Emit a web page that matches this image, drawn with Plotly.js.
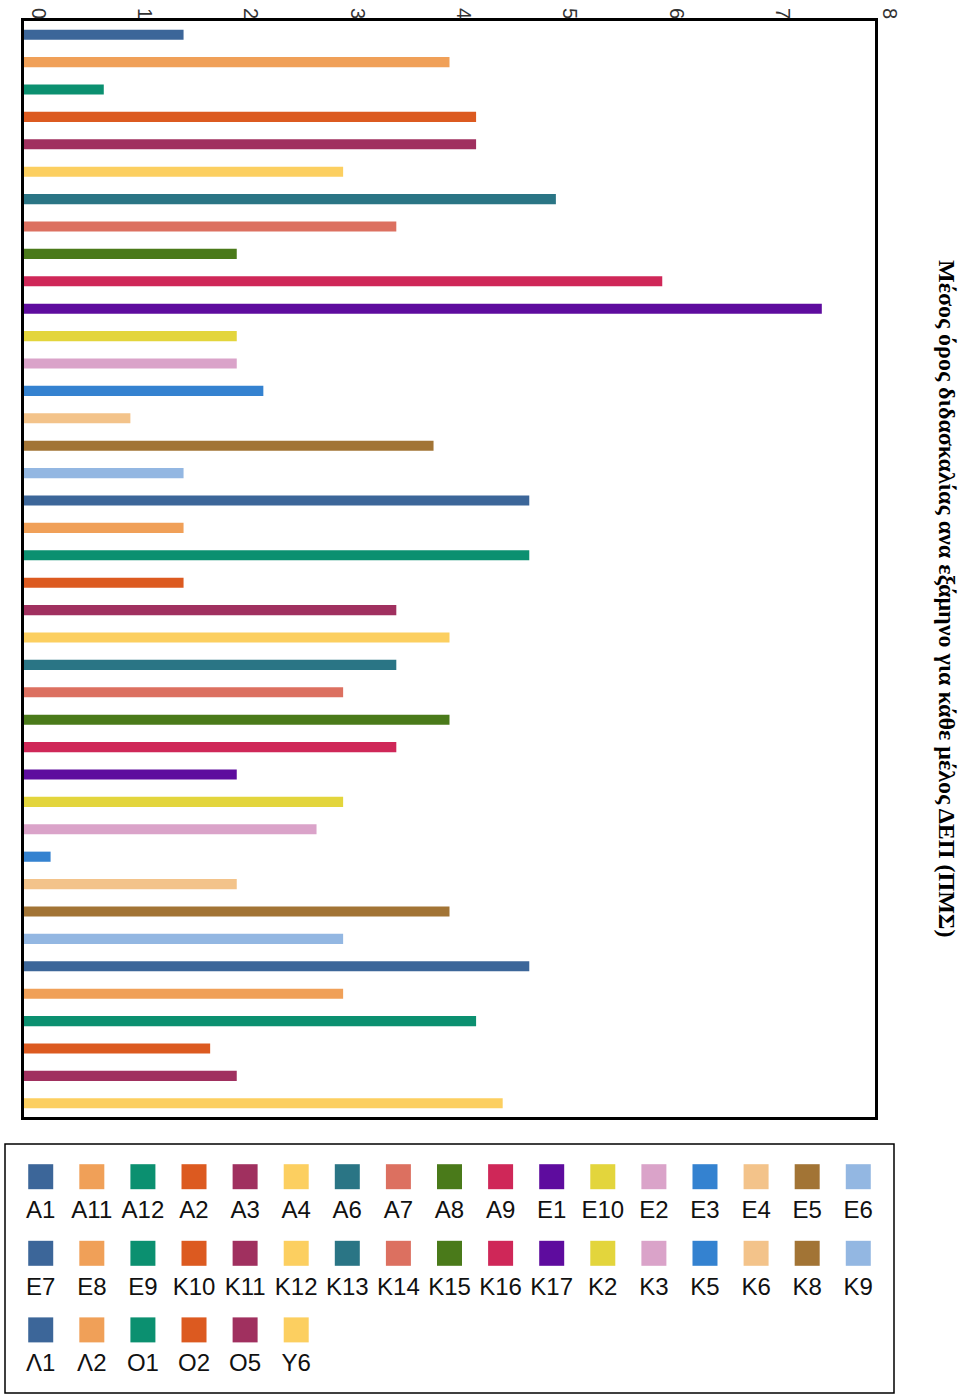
<!DOCTYPE html>
<html>
<head>
<meta charset="utf-8">
<script src="https://cdn.plot.ly/plotly-3.0.1.min.js"></script>
<style>
  html, body { margin: 0; padding: 0; background: #fff; }
  #chart { width: 960px; height: 1397px; }
</style>
</head>
<body>
<div id="chart"></div>
<script>
// members (categories), top to bottom
var members = ["A1", "A11", "A12", "A2", "A3", "A4", "A6", "A7", "A8", "A9",
    "E1", "E10", "E2", "E3", "E4", "E5", "E6", "E7", "E8", "E9",
    "K10", "K11", "K12", "K13", "K14", "K15", "K16", "K17", "K2", "K3",
    "K5", "K6", "K8", "K9", "Λ1", "Λ2", "O1", "O2", "O5", "Y6"];

// average teaching per semester
var avgTeaching = [1.5, 4, 0.75, 4.25, 4.25, 3, 5, 3.5, 2, 6,
    7.5, 2, 2, 2.25, 1, 3.85, 1.5, 4.75, 1.5, 4.75,
    1.5, 3.5, 4, 3.5, 3, 4, 3.5, 2, 3, 2.75,
    0.25, 2, 4, 3, 4.75, 3, 4.25, 1.75, 2, 4.5];

// excel-like palette, repeats every 17
var palette = ["#3C6699", "#F0A058", "#0B9070", "#DC5A20", "#A0305F", "#FCCF60",
    "#2A7585", "#DC7060", "#4A7A1A", "#CF2758", "#5E0C9E", "#E3D53C",
    "#DAA3C9", "#3482D0", "#F3C38A", "#A27435", "#93B7E2"];

var xTicks = [0, 1, 2, 3, 4, 5, 6, 7, 8];

var colors = members.map((m, i) => palette[i % palette.length]);

// legend grid: 17 per row
var perRow = 17;
var legCol = members.map((m, i) => i % perRow);
var legRow = members.map((m, i) => Math.floor(i / perRow));

var bars = {
    type: "bar",
    orientation: "h",
    y: members,
    x: avgTeaching,
    width: 0.37,
    marker: { color: colors },
    xaxis: "x",
    yaxis: "y",
    hoverinfo: "x+y"
};

var legSquares = {
    type: "scatter",
    mode: "markers",
    x: legCol,
    y: legRow,
    marker: { symbol: "square", size: 25, color: colors, line: { width: 0 } },
    xaxis: "x2",
    yaxis: "y2",
    hoverinfo: "skip"
};

var legLabels = {
    type: "scatter",
    mode: "text",
    x: legCol,
    y: legRow.map(r => r + 0.46),
    text: members,
    textposition: "middle center",
    textfont: { family: "Liberation Sans, Arial, sans-serif", size: 24, color: "#111" },
    xaxis: "x2",
    yaxis: "y2",
    hoverinfo: "skip"
};

var layout = {
    width: 960,
    height: 1397,
    margin: { l: 0, r: 0, t: 0, b: 0 },
    paper_bgcolor: "#fff",
    plot_bgcolor: "#fff",
    showlegend: false,
    xaxis: {
        domain: [24 / 960, 875 / 960],
        range: [0, 8],
        side: "top",
        tickvals: xTicks,
        ticktext: xTicks.map(String),
        tickangle: 90,
        ticks: "",
        ticklabelshift: 14,
        ticklabelstandoff: -8,
        tickfont: { family: "Liberation Sans, Arial, sans-serif", size: 20, color: "#333" },
        showgrid: false,
        zeroline: false,
        showline: true,
        linecolor: "#000",
        linewidth: 3,
        mirror: true,
        fixedrange: true
    },
    yaxis: {
        domain: [1 - 1117 / 1397, 1 - 21 / 1397],
        type: "category",
        autorange: "reversed",
        showticklabels: false,
        ticks: "",
        showgrid: false,
        zeroline: false,
        showline: true,
        linecolor: "#000",
        linewidth: 3,
        mirror: true,
        fixedrange: true
    },
    xaxis2: {
        domain: [5 / 960, 894 / 960],
        range: [-0.699, 16.699],
        visible: false,
        fixedrange: true
    },
    yaxis2: {
        domain: [1 - 1393 / 1397, 1 - 1144 / 1397],
        range: [2.824, -0.427],
        visible: false,
        fixedrange: true
    },
    shapes: [{
        type: "rect",
        xref: "x2 domain", yref: "y2 domain",
        x0: 0, x1: 1, y0: 0, y1: 1,
        line: { color: "#000", width: 1.5 }
    }],
    annotations: [{
        text: "<b>Μέσος όρος διδασκαλίας ανα εξάμηνο για κάθε μέλος ΔΕΠ (ΠΜΣ)</b>",
        xref: "paper", yref: "paper",
        x: 947 / 960, y: 1 - 598 / 1397,
        xanchor: "center", yanchor: "middle",
        textangle: 90,
        showarrow: false,
        font: { family: "Liberation Serif, Times New Roman, serif", size: 24, color: "#000" }
    }]
};

Plotly.newPlot("chart", [bars, legSquares, legLabels], layout, { displayModeBar: false, staticPlot: true });
</script>
</body>
</html>
